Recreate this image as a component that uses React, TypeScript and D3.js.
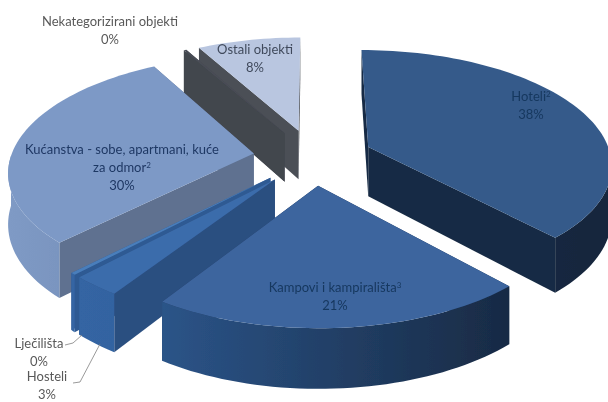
import React from "react";
import * as d3 from "d3";

const categories = ["Hoteli", "Kampovi i kampirališta", "Hosteli", "Lječilišta", "Kućanstva - sobe, apartmani, kuće za odmor", "Nekategorizirani objekti", "Ostali objekti"];
const shares = [38.2, 21, 2.8, 0.3, 29.5, 0.2, 8];
const percentLabels = ["38%", "21%", "3%", "0%", "30%", "0%", "8%"];
const topColors = ["#345a8a", "#3c659e", "#3b6cab", "#4a7ebb", "#7d99c6", "#4a4e56", "#b9c6e0"];
const wallColors = ["#182b44", "#1e3557", "#2c4f80", "#2f5a93", "#5f7190", "#42464e", "#4b4f57"];
const outerLeft = ["#1b2f4b", "#2b5488", "#3465a3", "#3465a3", "#7f9ac5", "#4a4e56", "#b9c6e0"];
const outerRight = ["#16263c", "#182a44", "#2f5c96", "#3465a3", "#6681ab", "#4a4e56", "#b9c6e0"];

const W = 608, H = 402;
const CX = 313, CY = 157, R = 243, TILT = 0.466, PERSP = 0.141, EXPLODE = 60, DEPTH = 50;

const angle = d3.scaleLinear().domain([0, d3.sum(shares)]).range([0, 2 * Math.PI]);
const cum = Array.from(d3.cumsum(shares));
type P = [number, number];

function project(u: number, v: number, drop = 0): P {
  // v > 0 is towards the viewer
  const s = 1 / (1 - (PERSP * v) / R);
  return [CX + u * s, CY + v * TILT * s + drop * s];
}

const line = d3.line<P>();

const slices = shares.map((_, i) => {
  const a0 = angle(i === 0 ? 0 : cum[i - 1]);
  const a1 = angle(cum[i]);
  const mid = (a0 + a1) / 2;
  const ou = EXPLODE * Math.sin(mid);
  const ov = -EXPLODE * Math.cos(mid);
  const at = (a: number, r: number, drop = 0) => project(ou + r * Math.sin(a), ov - r * Math.cos(a), drop);
  const n = Math.max(2, Math.ceil((a1 - a0) / 0.03));
  const angles = d3.range(n + 1).map((k) => a0 + ((a1 - a0) * k) / n);
  const top = angles.map((a) => at(a, R));
  const bottom = angles.map((a) => at(a, R, DEPTH));
  // only the part of the rim that faces the viewer is drawn
  const frontAngles = angles.filter((a) => Math.cos(a) <= 0);
  const outer = [...frontAngles.map((a) => at(a, R)), ...frontAngles.slice().reverse().map((a) => at(a, R, DEPTH))];
  const apex = at(0, 0);
  const apexB = at(0, 0, DEPTH);
  const walls = [
    { d: [apex, top[0], bottom[0], apexB], y: (apex[1] + top[0][1]) / 2 },
    { d: [apex, top[n], bottom[n], apexB], y: (apex[1] + top[n][1]) / 2 },
  ].sort((p, q) => p.y - q.y);
  return {
    i, mid, apex,
    topFace: [apex, ...top] as P[],
    outer: outer as P[],
    walls,
    xs: d3.extent([...top, apex], (p) => p[0]) as [number, number],
  };
});

const order = slices.slice().sort((a, b) => -Math.cos(a.mid) - -Math.cos(b.mid));

type Lab = { x: number; y: number; color: string; lines: { t: string; sup?: string }[] };
const labels: Lab[] = [
  { x: 531, y: 101, color: "#17375e", lines: [{ t: categories[0], sup: "2" }, { t: percentLabels[0] }] },
  { x: 335, y: 292, color: "#17375e", lines: [{ t: categories[1], sup: "3" }, { t: percentLabels[1] }] },
  { x: 47, y: 381, color: "#595959", lines: [{ t: categories[2] }, { t: percentLabels[2] }] },
  { x: 39, y: 348, color: "#595959", lines: [{ t: categories[3] }, { t: percentLabels[3] }] },
  { x: 122, y: 154, color: "#1f3864", lines: [{ t: "Kućanstva - sobe, apartmani, kuće" }, { t: "za odmor", sup: "2" }, { t: percentLabels[4] }] },
  { x: 110, y: 26, color: "#595959", lines: [{ t: categories[5] }, { t: percentLabels[5] }] },
  { x: 255, y: 54, color: "#404a5c", lines: [{ t: categories[6] }, { t: percentLabels[6] }] },
];

const leaders: P[][] = [
  [[65, 345], [73, 343], [82, 335]],
  [[73, 383], [80, 382], [100, 344]],
];

export default function App() {
  return (
    <svg width={W} height={H} viewBox={`0 0 ${W} ${H}`} style={{ position: "absolute", left: 0, top: 0, background: "#fff" }}>
      <defs>
        <filter id="soft" x="-5%" y="-5%" width="110%" height="110%">
          <feGaussianBlur stdDeviation="0.55" />
        </filter>
        {slices.map((s) => (
          <linearGradient key={s.i} id={`o${s.i}`} gradientUnits="userSpaceOnUse" x1={s.xs[0]} x2={s.xs[1]} y1={0} y2={0}>
            <stop offset="0" stopColor={outerLeft[s.i]} />
            <stop offset="1" stopColor={outerRight[s.i]} />
          </linearGradient>
        ))}
      </defs>
      <g filter="url(#soft)">
        {order.map((s) => (
          <g key={s.i}>
            {s.walls.map((w, k) => (
              <path key={k} d={line(w.d as P[])! + "Z"} fill={wallColors[s.i]} />
            ))}
            {s.outer.length > 2 ? <path d={line(s.outer)! + "Z"} fill={`url(#o${s.i})`} /> : null}
            <path d={line(s.topFace)! + "Z"} fill={topColors[s.i]} />
          </g>
        ))}
        {leaders.map((l, i) => (
          <path key={i} d={line(l)!} fill="none" stroke="#808080" strokeWidth={0.8} />
        ))}
        {labels.map((l, i) => (
          <text key={i} x={l.x} y={l.y} textAnchor="middle" fontFamily="Lato, 'Open Sans', sans-serif" fontSize={13} fill={l.color}>
            {l.lines.map((ln, k) => (
              <tspan key={k} x={l.x} y={l.y + k * 18}>
                {ln.t}
                {ln.sup ? <tspan fontSize={8} dy={-4}>{ln.sup}</tspan> : null}
              </tspan>
            ))}
          </text>
        ))}
      </g>
    </svg>
  );
}
